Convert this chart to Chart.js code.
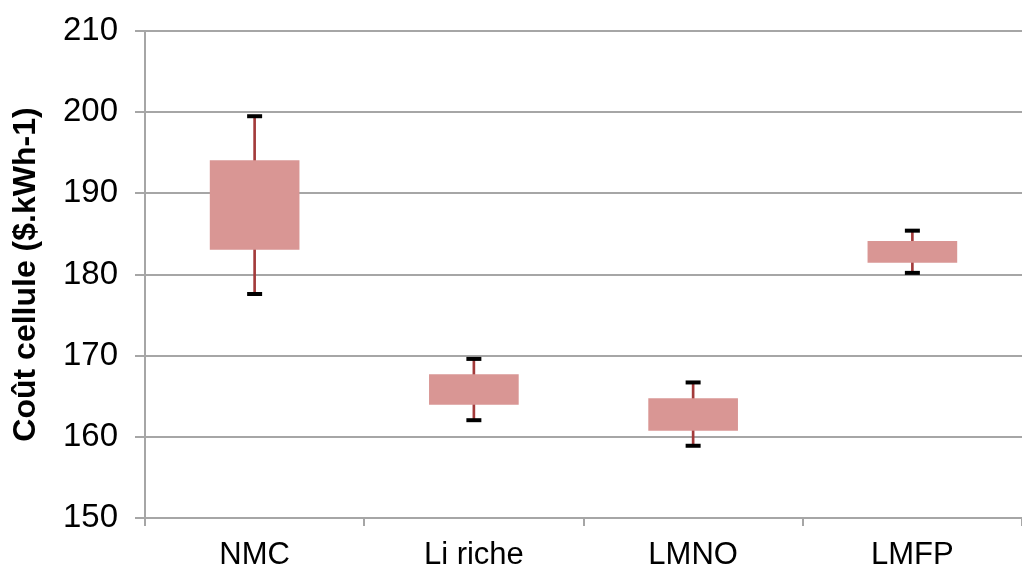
<!DOCTYPE html>
<html>
<head>
<meta charset="utf-8">
<script src="https://cdn.jsdelivr.net/npm/chart.js@4.4.1/dist/chart.umd.min.js"></script>
<style>
  html, body { margin: 0; padding: 0; background: #ffffff; }
  #wrap { width: 1022px; height: 567px; position: relative; }
</style>
</head>
<body>
<div id="wrap"><canvas id="c" width="1022" height="567"></canvas></div>
<script>
const categories = ['NMC', 'Li riche', 'LMNO', 'LMFP'];
const minValues = [177.6, 162.05, 158.9, 180.2];
const q1Values = [183.1, 164.0, 160.8, 181.5];
const q3Values = [194.05, 167.66, 164.7, 184.1];
const maxValues = [199.5, 169.6, 166.7, 185.4];
const yTicks = [150, 160, 170, 180, 190, 200, 210];
const yTitle = 'Coût cellule ($.kWh-1)';

const gridColor = '#A6A6A6';

new Chart(document.getElementById('c'), {
  type: 'bar',
  data: {
    labels: categories,
    datasets: [
      {
        type: 'line',
        label: 'max',
        data: maxValues,
        showLine: false,
        pointStyle: 'line',
        pointRadius: 7.5,
        pointHoverRadius: 7.5,
        borderColor: '#000000',
        backgroundColor: '#000000',
        pointBorderWidth: 4,
        borderWidth: 4,
        clip: false,
        order: -2
      },
      {
        type: 'line',
        label: 'min',
        data: minValues,
        showLine: false,
        pointStyle: 'line',
        pointRadius: 7.5,
        pointHoverRadius: 7.5,
        borderColor: '#000000',
        backgroundColor: '#000000',
        pointBorderWidth: 4,
        borderWidth: 4,
        clip: false,
        order: -1
      },
      {
        label: 'box',
        data: categories.map((c, i) => [q1Values[i], q3Values[i]]),
        backgroundColor: '#D99694',
        borderWidth: 0,
        barThickness: 89,
        grouped: false,
        order: 0
      },
      {
        label: 'whisker',
        data: categories.map((c, i) => [minValues[i], maxValues[i]]),
        backgroundColor: '#A33B3B',
        borderWidth: 0,
        barThickness: 2,
        grouped: false,
        order: 1
      }
    ]
  },
  options: {
    responsive: false,
    animation: false,
    layout: { autoPadding: false, padding: { top: 31, right: 0, bottom: 0, left: 0 } },
    plugins: {
      legend: { display: false },
      tooltip: { enabled: false },
      title: { display: false }
    },
    scales: {
      x: {
        offset: true,
        grid: {
          display: true,
          offset: true,
          drawOnChartArea: false,
          drawTicks: true,
          tickLength: 8,
          color: gridColor,
          lineWidth: 2
        },
        border: { display: true, color: gridColor, width: 2 },
        ticks: {
          color: '#000000',
          font: { family: '"Liberation Sans", Arial, sans-serif', size: 31 },
          padding: 11,
          maxRotation: 0
        },
        afterFit: (scale) => {
          scale.height = 49;
          scale.paddingLeft = 0;
          scale.paddingRight = 0;
        }
      },
      y: {
        min: 150,
        max: 210,
        afterBuildTicks: (scale) => { scale.ticks = yTicks.map(v => ({ value: v })); },
        grid: {
          color: gridColor,
          lineWidth: 2,
          drawTicks: true,
          tickLength: 10
        },
        border: { display: true, color: gridColor, width: 2 },
        ticks: {
          color: '#000000',
          font: { family: '"Liberation Sans", Arial, sans-serif', size: 33 },
          padding: 17
        },
        title: {
          display: true,
          text: yTitle,
          color: '#000000',
          font: { family: '"Liberation Sans", Arial, sans-serif', size: 32, weight: 'bold' },
          padding: { top: 7, bottom: 0 }
        },
        afterFit: (scale) => {
          scale.width = 145;
          scale.paddingTop = 0;
          scale.paddingBottom = 0;
        }
      }
    }
  }
});
</script>
</body>
</html>
